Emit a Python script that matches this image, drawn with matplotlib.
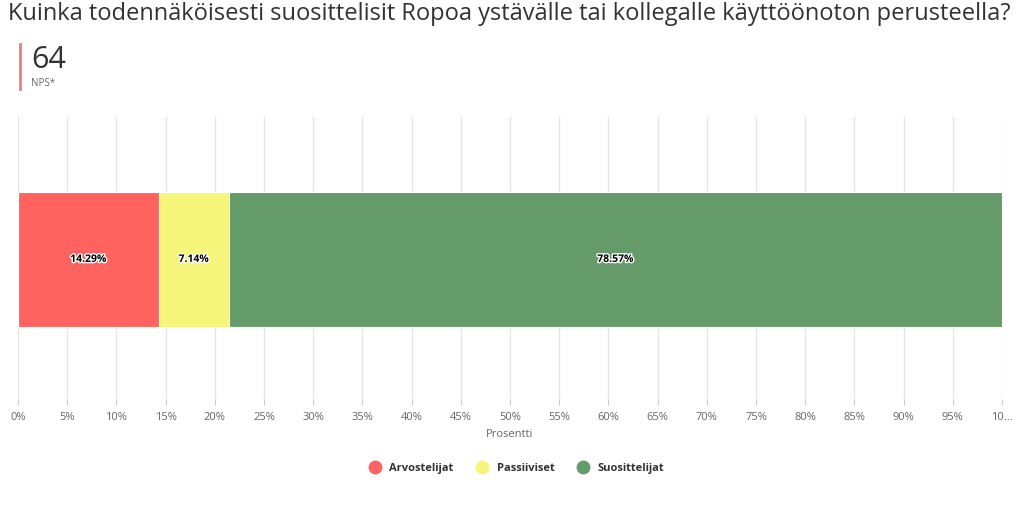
import matplotlib.pyplot as plt
import matplotlib.patheffects as pe
from matplotlib.lines import Line2D

plt.rcParams['font.family'] = ['Open Sans', 'DejaVu Sans']

title = "Kuinka todennäköisesti suosittelisit Ropoa ystävälle tai kollegalle käyttöönoton perusteella?"
nps_value = "64"
categories = ["Arvostelijat", "Passiiviset", "Suosittelijat"]
shares = [14.29, 7.14, 78.57]
colors = ["#FF6360", "#F6F67A", "#659B69"]
ticks = list(range(0, 101, 5))
tick_labels = [f"{t}%" for t in ticks[:-1]] + ["10..."]

fig = plt.figure(figsize=(10.24, 5.1), dpi=100)
ax = fig.add_axes([18 / 1024, 1 - 400 / 510, 984 / 1024, 282 / 510])

left = 0
for cat, val, col in zip(categories, shares, colors):
    ax.barh(0, val, left=left, height=0.96, color=col, edgecolor="white", linewidth=0.8, zorder=3)
    ax.text(left + val / 2, 0, f"{val:.2f}%", ha="center", va="center", fontsize=7.5,
            fontweight="bold", color="black", zorder=4,
            path_effects=[pe.withStroke(linewidth=2, foreground="white")])
    left += val

ax.set_xlim(0, 100)
ax.set_ylim(-0.99, 1.01)
ax.set_xticks(ticks)
ax.set_xticklabels(tick_labels, fontsize=8, color="#666666")
ax.tick_params(axis="x", length=4, color="#cccccc", pad=5)
ax.set_yticks([])
ax.grid(axis="x", color="#e6e6e6", linewidth=1, zorder=0)
for s in ax.spines.values():
    s.set_visible(False)
ax.set_xlabel("Prosentti", fontsize=8, color="#666666", labelpad=4)

fig.text(8 / 1024, 1 - 14 / 510, title, fontsize=17, color="#333333", va="center", ha="left")
fig.add_artist(Line2D([20 / 1024, 20 / 1024], [1 - 45 / 510, 1 - 90 / 510], color="#E88080", linewidth=2))
fig.text(31 / 1024, 1 - 60 / 510, nps_value, fontsize=22, color="#333333", va="center", ha="left")
fig.text(31 / 1024, 1 - 84 / 510, "NPS*", fontsize=7, color="#666666", va="center", ha="left")

handles = [Line2D([0], [0], marker="o", linestyle="", markersize=9, markerfacecolor=c,
                  markeredgecolor=c) for c in colors]
leg = fig.legend(handles, categories, loc="center", bbox_to_anchor=(0.502, 1 - 469 / 510), ncol=3,
                 frameon=False, fontsize=8, handletextpad=0.3, columnspacing=1.6)
for t in leg.get_texts():
    t.set_fontweight("bold")
    t.set_color("#333333")

fig.savefig("out.png", dpi=100)
